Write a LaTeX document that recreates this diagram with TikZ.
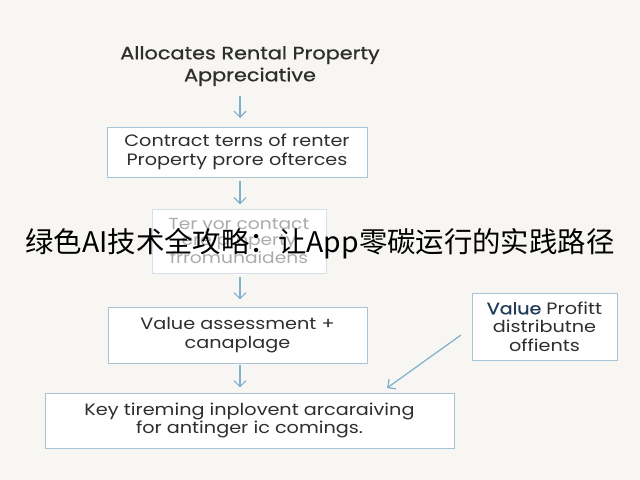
\documentclass[tikz,border=0pt]{standalone}
\usepackage{fontspec}
\setmainfont{Poppins}[FakeStretch=1.17]
\newfontfamily\titlefont{Poppins}[FakeStretch=1.16, FakeBold=0.8]
\newfontfamily\cjk{Noto Sans CJK SC}
\usetikzlibrary{arrows.meta}
\definecolor{bgc}{HTML}{F8F6F3}
\definecolor{boxline}{HTML}{A8C4D4}
\definecolor{arrc}{HTML}{7DB0CE}
\definecolor{txt}{HTML}{2E2E2E}
\definecolor{fadetxt}{HTML}{ABABAB}
\definecolor{fadeline}{HTML}{D3E0E8}
\definecolor{valblue}{HTML}{1F3B57}
\tikzset{
  box/.style={draw=boxline, line width=0.9bp, fill=white, inner sep=0pt, align=center, text=txt, font=\fontsize{16.5}{18.5}\selectfont},
  fadebox/.style={draw=fadeline, line width=0.9bp, fill=white, inner sep=0pt, align=center, text=fadetxt, font=\fontsize{16}{16}\selectfont},
  flow/.style={draw=arrc, line width=1.2bp, -{Straight Barb[length=6bp,width=12bp,line width=1.2bp]}},
}
\begin{document}
\begin{tikzpicture}[x=1bp,y=-1bp]
\fill[bgc] (0,0) rectangle (640,480);
\useasboundingbox (0,0) rectangle (640,480);
\node[align=center, text=txt, font=\titlefont\fontsize{18}{22}\selectfont] (title) at (250,66) {Allocates Rental Property\\Appreciative};
\node[box, minimum width=260bp, minimum height=50bp] (b1) at (237,152) {Contract terns of renter\\Property prore ofterces};
\node[fadebox, minimum width=174bp, minimum height=64bp] (b2) at (239,241) {Ter yor contact\\ere property\\frromunaidens};
\node[box, minimum width=259bp, minimum height=56bp] (b3) at (237.5,335) {Value assessment +\\canaplage};
\node[box, minimum width=409bp, minimum height=55bp] (b4) at (249.5,420.5) {Key tireming inplovent arcaraiving\\for antinger ic comings.};
\node[box, minimum width=145bp, minimum height=67bp] (b5) at (544.5,326.5) {{\color{valblue}\titlefont Value} Profitt\\distributne\\offients};
\coordinate (a1s) at (240,96);
\coordinate (a1e) at (240,118);
\draw[flow] (a1s) -- (a1e);
\draw[flow] ([xshift=3bp]b1.south) ++(0,4) coordinate (a2s) -- ++(0,23) coordinate (a2e);
\draw[flow] ([xshift=1bp]b2.south) ++(0,4) coordinate (a3s) -- ++(0,22) coordinate (a3e);
\draw[flow] ([xshift=2.5bp]b3.south) ++(0,2) coordinate (a4s) -- ++(0,22) coordinate (a4e);
\coordinate (d1) at (461,335);
\coordinate (d2) at (387,388);
\draw[flow] (d1) -- (d2);
\node[font=\cjk\fontsize{28.5}{30}\selectfont, text=black] (overlay) at (320,244) {绿色AI技术全攻略：让App零碳运行的实践路径};
\end{tikzpicture}
\end{document}
